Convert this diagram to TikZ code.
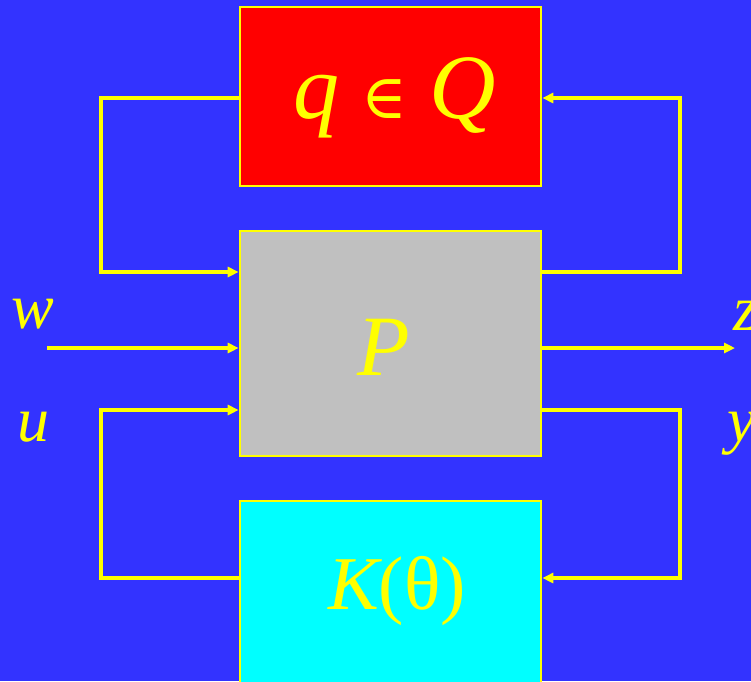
\documentclass[tikz,border=0pt]{standalone}
\usepackage{fontspec}
\setmainfont{Liberation Serif}
\newfontfamily\symbfont{DejaVu Serif}
\usetikzlibrary{arrows.meta}
\definecolor{bgblue}{HTML}{3333FF}
\definecolor{boxyellow}{HTML}{FFFF00}
\definecolor{boxgray}{HTML}{C0C0C0}
\definecolor{boxred}{HTML}{FF0000}
\definecolor{boxcyan}{HTML}{00FFFF}
\tikzset{
  blockbox/.style={draw=boxyellow, line width=2.6pt, minimum width=301pt, inner sep=0pt, text=boxyellow},
  conn/.style={draw=boxyellow, line width=3.2pt, -{Triangle[length=11pt,width=10pt]}},
  sig/.style={text=boxyellow, font=\fontsize{64}{66}\selectfont\itshape, inner sep=0pt}
}
\begin{document}
\begin{tikzpicture}[x=1pt,y=-1pt]
\fill[bgblue] (0,0) rectangle (751,681);
\useasboundingbox (0,0) rectangle (751,681);
\begin{scope}
\clip (0,0) rectangle (751,681);
\node[blockbox, fill=boxred, minimum height=179pt] (Q) at (390.5,96.5) {};
\node[blockbox, fill=boxgray, minimum height=225pt] (P) at (390.5,343.5) {};
\node[blockbox, fill=boxcyan, minimum height=200pt] (K) at (390.5,601) {};
\end{scope}
\node[text=boxyellow, inner sep=0pt, anchor=base, font=\fontsize{92}{94}\selectfont] (Qlab) at (395,118) {\itshape q\hspace{22pt}{\upshape\symbfont\fontsize{62}{64}\selectfont ∈}\hspace{22pt}Q};
\node[text=boxyellow, inner sep=0pt, anchor=base, font=\fontsize{86}{88}\selectfont\itshape] (Plab) at (384,375) {P};
\node[text=boxyellow, inner sep=0pt, font=\fontsize{76}{78}\selectfont, anchor=base] (Klab) at (397,609) {\itshape K\upshape(θ)};
\coordinate (win) at (47,348);
\coordinate (zout) at (735,348);
\coordinate (Lt) at (101,98);
\coordinate (Rt) at (680,98);
\coordinate (Lb) at (101,578);
\coordinate (Rb) at (680,578);
% upper loop
\draw[conn] (Q.west |- Lt) -- (Lt) |- ([yshift=71.5pt]P.west);
\draw[conn] ([yshift=71.5pt]P.east) -| (Rt) -- (Q.east |- Rt);
% exogenous
\draw[conn] (win) -- (P.west |- win);
\draw[conn] (P.east |- zout) -- (zout);
% lower loop
\draw[conn] (K.west |- Lb) -- (Lb) |- ([yshift=-66.5pt]P.west);
\draw[conn] ([yshift=-66.5pt]P.east) -| (Rb) -- (K.east |- Rb);
% signal labels
\node[sig, anchor=base] (wl) at (33,328) {w};
\node[sig, anchor=base] (ul) at (33,441) {u};
\node[sig, anchor=base west] (zl) at (733,330) {z};
\node[sig, anchor=base west] (yl) at (727,441) {y};
\end{tikzpicture}
\end{document}
